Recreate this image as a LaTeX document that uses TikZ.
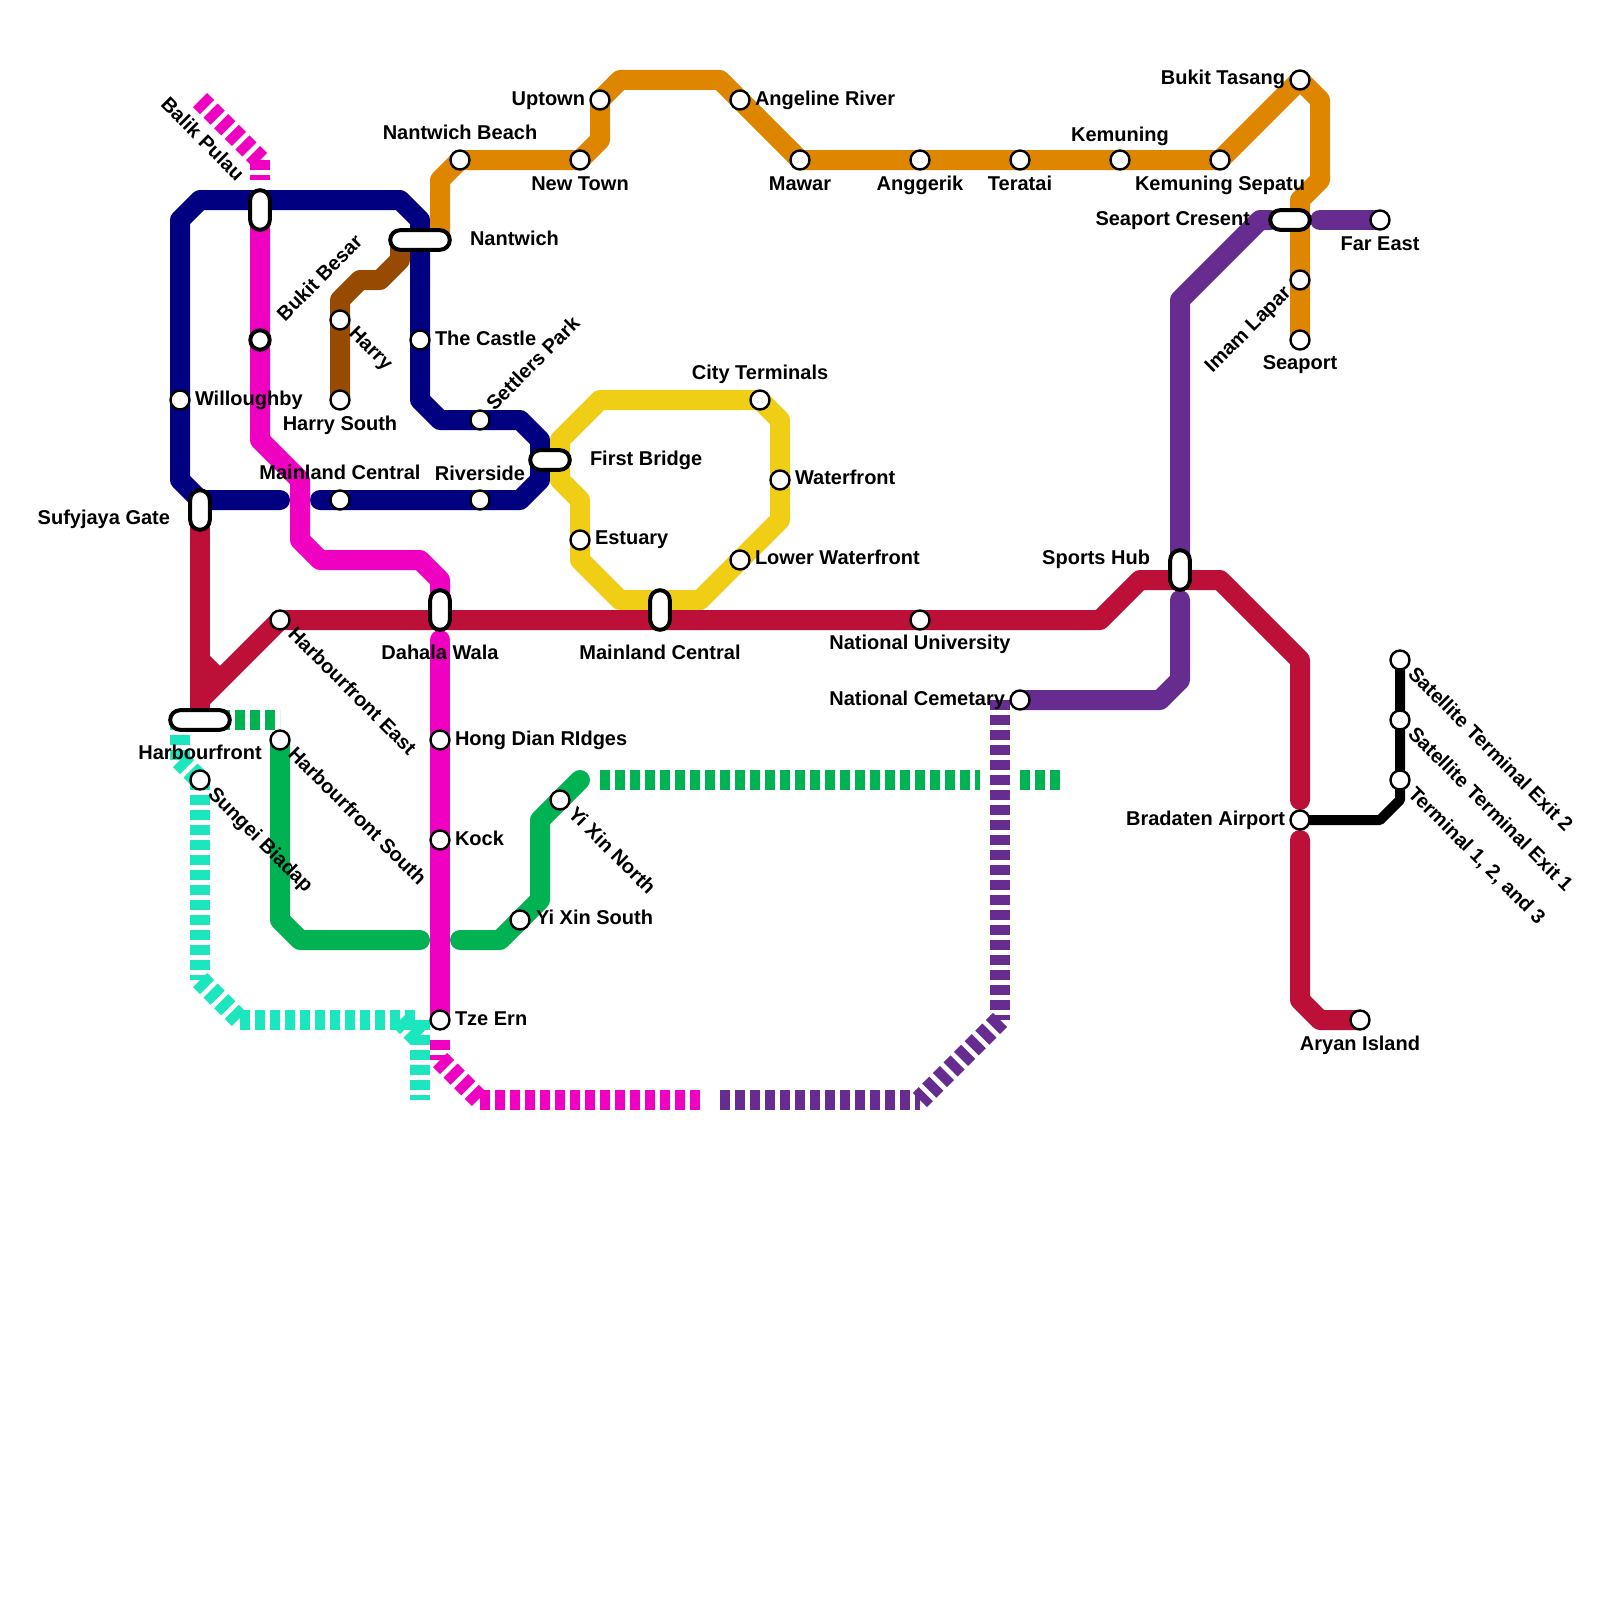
\documentclass[tikz,border=0pt]{standalone}
\usepackage{fontspec}
\setmainfont{Liberation Sans}
\usetikzlibrary{backgrounds}
\definecolor{cnavy}{HTML}{000080}
\definecolor{cred}{HTML}{BD1038}
\definecolor{cpink}{HTML}{F000C0}
\definecolor{corange}{HTML}{DF8600}
\definecolor{cyellow}{HTML}{F0CE15}
\definecolor{cbrown}{HTML}{964B00}
\definecolor{cpurple}{HTML}{662C90}
\definecolor{cgreen}{HTML}{00B251}
\definecolor{cteal}{HTML}{1BE6BE}
\tikzset{
  solidline/.style={line width=10pt,line cap=round,line join=round},
  dashline/.style={line width=10pt,line cap=butt,dash pattern=on 5pt off 2.5pt},
  stn/.style={circle,draw=black,fill=white,line width=1.2pt,minimum size=9.5pt,inner sep=0pt},
  stnbig/.style={circle,draw=black,fill=white,line width=2pt,minimum size=9.7pt,inner sep=0pt},
  pillbase/.style={rectangle,draw=black,fill=white,line width=2pt,rounded corners=4.9pt,inner sep=0pt},
  pillh/.style={pillbase,minimum width=#1,minimum height=9.8pt},
  pillv/.style={pillbase,minimum height=#1,minimum width=9.8pt},
  lbl/.style={inner sep=0pt,outer sep=0pt,font=\fontsize{10pt}{12pt}\selectfont\bfseries,text=black},
  lw/.style={lbl,anchor=base west},
  le/.style={lbl,anchor=base east},
  lc/.style={lbl,anchor=base},
  ldown/.style={lbl,anchor=base west,rotate=-45},
  lup/.style={lbl,anchor=base west,rotate=45},
}
\begin{document}
\begin{tikzpicture}[x=0.5pt,y=-0.5pt]
\useasboundingbox (0,0) rectangle (1600,1600);
% stations
\node[stn] (willoughby) at (180,400) {};
\node[stnbig] (bukitbesar) at (260,340) {};
\node[stn] (harry) at (340,320) {};
\node[stn] (harrysouth) at (340,400) {};
\node[stn] (castle) at (420,340) {};
\node[stn] (settlers) at (480,420) {};
\node[stn] (riverside) at (480,500) {};
\node[stn] (mainlandup) at (340,500) {};
\node[stn] (nantbeach) at (460,160) {};
\node[stn] (newtown) at (580,160) {};
\node[stn] (uptown) at (600,100) {};
\node[stn] (angeline) at (740,100) {};
\node[stn] (mawar) at (800,160) {};
\node[stn] (anggerik) at (920,160) {};
\node[stn] (teratai) at (1020,160) {};
\node[stn] (kemuning) at (1120,160) {};
\node[stn] (kemsepatu) at (1220,160) {};
\node[stn] (bukittasang) at (1300,80) {};
\node[stn] (imam) at (1300,280) {};
\node[stn] (seaport) at (1300,340) {};
\node[stn] (fareast) at (1380,220) {};
\node[stn] (cityterm) at (760,400) {};
\node[stn] (waterfront) at (780,480) {};
\node[stn] (lowerwater) at (740,560) {};
\node[stn] (estuary) at (580,540) {};
\node[stn] (natuni) at (920,620) {};
\node[stn] (hbeast) at (280,620) {};
\node[stn] (hbsouth) at (280,740) {};
\node[stn] (sungei) at (200,780) {};
\node[stn] (hongdian) at (440,740) {};
\node[stn] (kock) at (440,840) {};
\node[stn] (tzeern) at (440,1020) {};
\node[stn] (yixinnorth) at (560,800) {};
\node[stn] (yixinsouth) at (520,920) {};
\node[stn] (natcem) at (1020,700) {};
\node[stn] (bradaten) at (1300,820) {};
\node[stn] (aryan) at (1360,1020) {};
\node[stn] (sat2) at (1400,660) {};
\node[stn] (sat1) at (1400,720) {};
\node[stn] (term) at (1400,780) {};
% interchanges
\node[pillv=19.8pt] (balik) at (260,210) {};
\node[pillh=29.8pt] (nantwich) at (420,240) {};
\node[pillv=19.8pt] (sufyjaya) at (200,510) {};
\node[pillh=29.8pt] (harbourfront) at (200,720) {};
\node[pillv=19.8pt] (dahala) at (440,610) {};
\node[pillh=19.8pt] (firstbridge) at (550,460) {};
\node[pillv=19.8pt] (mainlandlow) at (660,610) {};
\node[pillv=19.8pt] (sportshub) at (1180,570) {};
\node[pillh=19.8pt] (seaportcres) at (1290,220) {};
% free ends
\coordinate (tealjoin) at (420,1020);
\coordinate (pinkdash) at (440,1040);
\coordinate (purplemid) at (1000,700);
\begin{scope}[on background layer]
% navy
\draw[solidline,cnavy] (280,500) -- (200,500) -- (180,480) -- (willoughby.center) -- (180,220) -- (200,200) -- (400,200) -- (420,220) -- (castle.center) -- (420,400) -- (440,420) -- (settlers.center) -- (520,420) -- (540,440) -- (540,480) -- (520,500) -- (riverside.center) -- (mainlandup.center) -- (320,500);
% orange
\draw[solidline,corange] (440,240) -- (440,180) -- (nantbeach.center) -- (newtown.center) -- (600,140) -- (uptown.center) -- (620,80) -- (720,80) -- (angeline.center) -- (mawar.center) -- (anggerik.center) -- (teratai.center) -- (kemuning.center) -- (kemsepatu.center) -- (bukittasang.center) -- (1320,100) -- (1320,180) -- (1300,200) -- (imam.center) -- (seaport.center);
% brown
\draw[solidline,cbrown] (400,240) -- (400,260) -- (380,280) -- (360,280) -- (340,300) -- (harry.center) -- (harrysouth.center);
% yellow
\draw[solidline,cyellow] (560,440) -- (600,400) -- (cityterm.center) -- (780,420) -- (waterfront.center) -- (780,520) -- (lowerwater.center) -- (700,600) -- (620,600) -- (580,560) -- (estuary.center) -- (580,500) -- (560,480) -- cycle;
% red
\draw[solidline,cred,line cap=butt] (sufyjaya.center) -- (harbourfront.center);
\draw[solidline,cred,line cap=butt] (200,660) -- (220,680);
\draw[solidline,cred] (200,700) -- (hbeast.center) -- (natuni.center) -- (1100,620) -- (1140,580) -- (1220,580) -- (1300,660) -- (1300,800);
\draw[solidline,cred] (1300,840) -- (1300,1000) -- (1320,1020) -- (aryan.center);
% magenta
\draw[solidline,cpink] (balik.center) -- (bukitbesar.center) -- (260,440) -- (300,480) -- (300,540) -- (320,560) -- (420,560) -- (440,580) -- (dahala.center);
\draw[solidline,cpink] (440,640) -- (hongdian.center) -- (kock.center) -- (tzeern.center);
\draw[dashline,cpink] (200,100) -- (260,160);
\draw[dashline,cpink] (260,160) -- (260,180);
\draw[dashline,cpink] (pinkdash) -- (440,1060);
\draw[dashline,cpink] (440,1060) -- (480,1100);
\draw[dashline,cpink] (480,1100) -- (700,1100);
% green
\draw[dashline,cgreen] (harbourfront.center) ++(20,0) -- (280,720);
\draw[solidline,cgreen] (hbsouth.center) -- (280,920) -- (300,940) -- (420,940);
\draw[solidline,cgreen] (460,940) -- (500,940) -- (yixinsouth.center) -- (540,900) -- (540,820) -- (yixinnorth.center) -- (580,780);
\draw[dashline,cgreen] (600,780) -- (980,780);
\draw[dashline,cgreen] (1020,780) -- (1060,780);
% teal
\draw[dashline,cteal] (180,720) -- (180,760);
\draw[dashline,cteal] (180,760) -- (sungei.center);
\draw[dashline,cteal] (sungei.center) -- (200,980);
\draw[dashline,cteal] (200,980) -- (240,1020);
\draw[dashline,cteal] (240,1020) -- (tealjoin);
\draw[dashline,cteal] (400,1020) -- (420,1040);
\draw[dashline,cteal] (tealjoin) -- (420,1100);
% purple
\draw[solidline,cpurple] (fareast.center) -- (1320,220);
\draw[solidline,cpurple] (1270,220) -- (1260,220) -- (1180,300) -- (sportshub.center);
\draw[solidline,cpurple] (1180,600) -- (1180,680) -- (1160,700) -- (natcem.center);
\draw[dashline,cpurple] (purplemid) -- (1000,1020);
\draw[dashline,cpurple] (1000,1020) -- (920,1100);
\draw[dashline,cpurple] (720,1100) -- (920,1100);
% black
\draw[line width=5pt,line join=round,black] (bradaten.center) -- (1380,820) -- (1400,800) -- (term.center) -- (sat1.center) -- (sat2.center);
\end{scope}
% labels
\node[ldown,anchor=base east] (tbalik) at (236,182) {Balik Pulau};
\node[lw] (twill) at (195,405) {Willoughby};
\node[lup] (tbukit) at (285,322) {Bukit Besar};
\node[ldown] (tharry) at (348,334) {Harry};
\node[lc] (tharrys) at (340,430) {Harry South};
\node[lw] (tcastle) at (435,345) {The Castle};
\node[lup] (tsettlers) at (494.5,411.5) {Settlers Park};
\node[lc] (trive) at (480,480) {Riverside};
\node[lc] (tmainup) at (340,479.5) {Mainland Central};
\node[lc] (tnantb) at (460,140) {Nantwich Beach};
\node[lc] (tnewt) at (580,190) {New Town};
\node[le] (tupt) at (585,105) {Uptown};
\node[lw] (tnant) at (470,245) {Nantwich};
\node[lw] (tange) at (755,105) {Angeline River};
\node[lc] (tmawar) at (800,190) {Mawar};
\node[lc] (tangg) at (920,190) {Anggerik};
\node[lc] (tterat) at (1020,190) {Teratai};
\node[lc] (tkemu) at (1120,141) {Kemuning};
\node[lc] (tkems) at (1220,190) {Kemuning Sepatu};
\node[le] (tbukt) at (1285,85) {Bukit Tasang};
\node[le] (tseac) at (1250,225.5) {Seaport Cresent};
\node[lc] (tfar) at (1380,250) {Far East};
\node[lc] (tseap) at (1300,369) {Seaport};
\node[lup,anchor=base east] (timam) at (1292,294) {Imam Lapar};
\node[lw] (tfirst) at (590,465) {First Bridge};
\node[lc] (tcity) at (760,379) {City Terminals};
\node[lw] (twater) at (795,484) {Waterfront};
\node[lw] (testu) at (595,544.5) {Estuary};
\node[lw] (tlower) at (755,564) {Lower Waterfront};
\node[lc] (tmainlow) at (660,659.5) {Mainland Central};
\node[lc] (tnatu) at (920,649.5) {National University};
\node[le] (tsuf) at (170,524) {Sufyjaya Gate};
\node[lc] (thb) at (200,759) {Harbourfront};
\node[lc] (tdah) at (440,659) {Dahala Wala};
\node[ldown] (thbe) at (287,635) {Harbourfront East};
\node[ldown] (thbs) at (287,755) {Harbourfront South};
\node[ldown] (tsung) at (207,795) {Sungei Biadap};
\node[lw] (thong) at (455,745) {Hong Dian RIdges};
\node[lw] (tkock) at (455,845) {Kock};
\node[lw] (ttze) at (455,1025) {Tze Ern};
\node[ldown] (tyin) at (567,815) {Yi Xin North};
\node[lw] (tyis) at (536,924) {Yi Xin South};
\node[le] (tsports) at (1150,564) {Sports Hub};
\node[le] (tcem) at (1005,705) {National Cemetary};
\node[le] (tbrad) at (1285,825) {Bradaten Airport};
\node[lc] (tary) at (1360,1050) {Aryan Island};
\node[ldown] (tsat2) at (1407,675) {Satellite Terminal Exit 2};
\node[ldown] (tsat1) at (1407,735) {Satellite Terminal Exit 1};
\node[ldown] (tterm) at (1407,795) {Terminal 1, 2, and 3};
\end{tikzpicture}
\end{document}
